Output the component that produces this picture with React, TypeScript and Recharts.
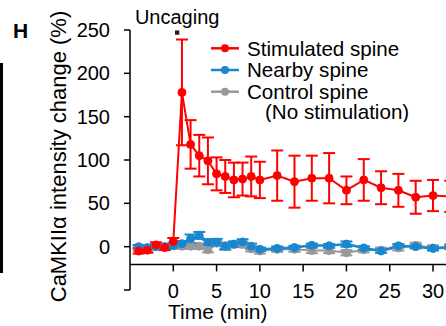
import React from 'react';
import {
  ComposedChart,
  Line,
  XAxis,
  YAxis,
  ErrorBar,
  ReferenceLine,
  ReferenceArea,
  Legend,
  Label,
} from 'recharts';

const RED = '#ff0000';
const BLUE = '#1787d0';
const GRAY = '#999999';
const FONT = '"Liberation Sans", Arial, sans-serif';

// time after uncaging (min)
const times = [-4, -3, -2, -1, 0, 1, 2, 3, 4, 5, 6, 7, 8, 9, 10, 12, 14, 16, 18, 20, 22, 24, 26, 28, 30, 32];

const stimulated = [-5, -4, 2, -1, 6, 178, 118, 105, 99, 84, 81, 77, 78, 81, 77, 82, 75, 79, 79, 65, 77, 68, 65, 57, 59, 58];
const stimulatedErr = [3, 3, 3, 3, 4, 61, 28, 24, 27, 19, 19, 20, 19, 23, 21, 29, 30, 26, 29, 16, 24, 19, 19, 19, 18, 18];

const nearby = [0, -1, 0, 0, 1, 3.5, 9, 13, 5, 5, 0.5, 3, 5.5, 0.5, -3, -2, -1, 1.5, 1, 3, -1.5, -5, 1, 0, -2, -0.5];
const nearbyErr = [2, 2, 2, 2, 2, 3, 5, 4, 3, 4, 4, 3, 3, 3, 2, 2, 2, 2, 2, 3, 2, 2, 2, 2, 2, 2];

const control = [-2, -2.5, 0.5, 0, 2, 0.5, 0.5, 0.5, -3.5, 4, 1, 2.5, 2.5, -2.5, -5, -3, -3, -4.5, -4.5, -7, -3.5, -4, -1.5, 1.5, -1.5, 0];
const controlErr = [3, 3, 3, 3, 3, 3, 3, 3, 3, 3, 3, 3, 3, 3, 3, 3, 3, 3, 3, 3, 3, 3, 3, 3, 3, 3];

const xTicks = [0, 5, 10, 15, 20, 25, 30];
const yTicks = [-50, 0, 50, 100, 150, 200, 250];

const legendRows = [
  { label: 'Stimulated spine', color: RED },
  { label: 'Nearby spine', color: BLUE },
  { label: 'Control spine', color: GRAY },
];

const data = times.map((t, i) => ({
  t,
  stim: stimulated[i],
  stimErr: stimulatedErr[i],
  near: nearby[i],
  nearErr: nearbyErr[i],
  ctrl: control[i],
  ctrlErr: controlErr[i],
}));

// x axis sits above the bottom of the y axis, so ticks are drawn a bit higher
const XTick = (props: any) => {
  const { x, y, payload } = props;
  const top = y - 25.6;
  return (
    <g>
      <line x1={x} x2={x} y1={top} y2={top + 7} stroke="#000" strokeWidth={1.5} />
      <text x={x} y={y + 7.5} textAnchor="middle" fontSize={20} fill="#000">
        {payload.value}
      </text>
    </g>
  );
};

const LegendContent = () => (
  <svg width={238} height={86} style={{ fontFamily: FONT }}>
    {legendRows.map((row, i) => {
      const cy = 12.3 + i * 21.7;
      return (
        <g key={row.label}>
          <line x1={3} x2={31} y1={cy} y2={cy} stroke={row.color} strokeWidth={2.5} />
          <circle cx={17} cy={cy} r={4} fill={row.color} />
          <text x={39} y={cy + 7.3} fontSize={20.6} fill="#000">
            {row.label}
          </text>
        </g>
      );
    })}
    <text x={57} y={75.5 + 7.3} fontSize={20.6} fill="#000">
      (No stimulation)
    </text>
  </svg>
);

export default function App() {
  return (
    <div
      style={{
        position: 'fixed',
        left: 0,
        top: 0,
        width: 446,
        height: 326,
        background: '#fff',
        fontFamily: FONT,
        overflow: 'hidden',
      }}
    >
      <div style={{ position: 'absolute', left: 0, top: 63, width: 3, height: 210, background: '#000' }} />
      <div
        style={{
          position: 'absolute',
          left: 13,
          top: 20,
          fontSize: 21,
          lineHeight: 1,
          fontWeight: 'bold',
          color: '#000',
        }}
      >
        H
      </div>
      <ComposedChart
        width={446}
        height={326}
        data={data}
        margin={{ top: 30, right: 0, bottom: 0, left: 0 }}
      >
        <XAxis
          dataKey="t"
          type="number"
          domain={[-5, 31.5]}
          allowDataOverflow
          ticks={xTicks}
          interval={0}
          axisLine={false}
          tickLine={false}
          tickSize={0}
          tickMargin={0}
          height={36}
          tick={<XTick />}
        >
          <Label
            content={(p: any) => (
              <text x={p.viewBox.x + 38} y={p.viewBox.y + 28.5} fontSize={21} fill="#000">
                Time (min)
              </text>
            )}
          />
        </XAxis>
        <YAxis
          type="number"
          domain={[-50, 250]}
          ticks={yTicks}
          interval={0}
          width={130}
          stroke="#000"
          axisLine={{ stroke: '#000', strokeWidth: 1.5 }}
          tickLine={{ stroke: '#000', strokeWidth: 1.5 }}
          tickSize={6}
          tickMargin={14}
          tick={{ fill: '#000', fontSize: 20 }}
          tickFormatter={(v: number) => (v === -50 ? '' : String(v))}
        >
          <Label
            content={(p: any) => {
              const cx = p.viewBox.x + 66;
              const cy = p.viewBox.y + 126.5;
              return (
                <text
                  x={cx}
                  y={cy}
                  transform={`rotate(-90, ${cx}, ${cy})`}
                  textAnchor="middle"
                  fontSize={22}
                  fill="#000"
                >
                  CaMKIIα intensity change (%)
                </text>
              );
            }}
          />
        </YAxis>
        <ReferenceLine y={-20.5} stroke="#000" strokeWidth={1.5} />
        <ReferenceArea x1={0.2} x2={0.7} y1={244.5} y2={249.5} fill="#222" fillOpacity={1} stroke="none">
          <Label value="Uncaging" position="top" offset={6} fontSize={20} fill="#000" />
        </ReferenceArea>
        <Line
          dataKey="ctrl"
          stroke={GRAY}
          strokeWidth={2}
          dot={{ r: 4, fill: GRAY, stroke: GRAY, strokeWidth: 1 }}
          activeDot={false}
          isAnimationActive={false}
        >
          <ErrorBar dataKey="ctrlErr" width={6} stroke={GRAY} strokeWidth={2} direction="y" />
        </Line>
        <Line
          dataKey="near"
          stroke={BLUE}
          strokeWidth={2.5}
          dot={{ r: 4, fill: BLUE, stroke: BLUE, strokeWidth: 1 }}
          activeDot={false}
          isAnimationActive={false}
        >
          <ErrorBar dataKey="nearErr" width={6} stroke={BLUE} strokeWidth={2} direction="y" />
        </Line>
        <Line
          dataKey="stim"
          stroke={RED}
          strokeWidth={2}
          dot={{ r: 4, fill: RED, stroke: RED, strokeWidth: 1 }}
          activeDot={false}
          isAnimationActive={false}
        >
          <ErrorBar dataKey="stimErr" width={6} stroke={RED} strokeWidth={2} direction="y" />
        </Line>
        <Legend
          layout="vertical"
          align="center"
          verticalAlign="middle"
          wrapperStyle={{ top: 36, left: 208, width: 238 }}
          content={<LegendContent />}
        />
      </ComposedChart>
    </div>
  );
}
